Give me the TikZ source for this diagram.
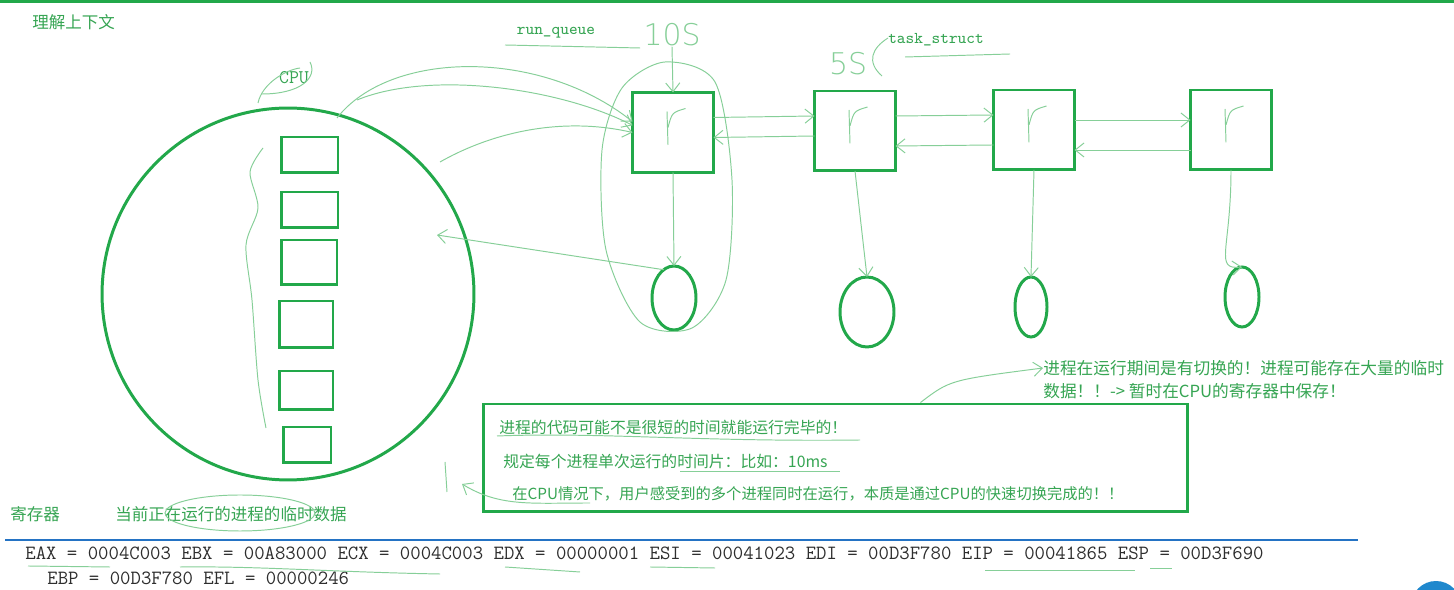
\documentclass[tikz,border=0pt]{standalone}
\usepackage{xcolor}
\usepackage{fontspec}
\usepackage{tikz}
\usetikzlibrary{shapes.geometric,arrows.meta}
\newfontfamily\cjk{Noto Sans CJK SC}
\newfontfamily\hand{DejaVu Sans ExtraLight}
\definecolor{WBGreen}{HTML}{22A84A}
\definecolor{WBText}{HTML}{36A553}
\definecolor{WBPen}{HTML}{86CF98}
\definecolor{WBBlue}{HTML}{2473C4}
\definecolor{WBGray}{HTML}{2E2E2E}

\begin{document}
\begin{tikzpicture}[x=0.02cm,y=-0.02cm,
  pen/.style={WBPen,line width=.55pt},
  hook/.style={-{Straight Barb[length=5pt,width=8pt]}},
  regbox/.style={draw=WBGreen,line width=1.7pt,inner sep=0pt,outer sep=0pt},
  taskbox/.style={draw=WBGreen,line width=1.7pt,inner sep=0pt,outer sep=0pt,minimum width=1.62cm,minimum height=1.6cm},
  proc/.style={draw=WBGreen,line width=1.7pt,ellipse,inner sep=0pt,outer sep=0pt},
  cjktext/.style={font=\cjk\fontsize{9.4}{11}\selectfont,text=WBText,inner sep=0pt,anchor=west},
  ttlabel/.style={font=\ttfamily\fontsize{9.4}{11}\selectfont,text=WBText,inner sep=0pt},
  regline/.style={font=\ttfamily\fontsize{11.5}{13}\selectfont,text=WBGray,inner sep=0pt,anchor=west}]
\path[use as bounding box] (0,0) rectangle (1454,590);
\fill[white] (0,0) rectangle (1454,590);
\draw[WBGreen,line width=1.7pt] (0,2) -- (1454,2);

% titles
\node[cjktext] (title) at (32,22) {理解上下文};
\node[ttlabel,font=\ttfamily\fontsize{11}{12}\selectfont] (cpulabel) at (294,78) {CPU};
\node[ttlabel] (rq) at (556,33) {run\_queue};
\node[ttlabel] (ts) at (936,40) {task\_struct};
\node[text=WBPen,font=\hand\fontsize{17}{20}\selectfont,inner sep=0pt] (ten) at (672,35) {10S};
\node[text=WBPen,font=\hand\fontsize{17}{20}\selectfont,inner sep=0pt] (five) at (848,64) {5S};

% cpu with registers
\node[circle,draw=WBGreen,line width=1.7pt,minimum size=7.44cm,inner sep=0pt] (cpu) at (288,294) {};
\node[regbox,minimum width=1.14cm,minimum height=0.72cm] (r1) at (309.5,155) {};
\node[regbox,minimum width=1.14cm,minimum height=0.72cm] (r2) at (309.5,210) {};
\node[regbox,minimum width=1.12cm,minimum height=0.9cm] (r3) at (309,262.5) {};
\node[regbox,minimum width=1.08cm,minimum height=0.94cm] (r4) at (306,324.5) {};
\node[regbox,minimum width=1.08cm,minimum height=0.78cm] (r5) at (306,390.5) {};
\node[regbox,minimum width=0.96cm,minimum height=0.72cm] (r6) at (307,445) {};
\draw[pen] plot[smooth] coordinates {(263,148) (250,172) (258,208) (246,245) (252,300) (258,380) (266,428)};
\draw[pen] (258,103) .. controls (262,84) and (285,70) .. (300,68);
\draw[pen] (310,62) .. controls (318,78) and (300,94) .. (262,94);

% run queue
\node[taskbox] (t1) at (673,132.5) {};
\node[taskbox] (t2) at (855,131) {};
\node[taskbox] (t3) at (1034,130) {};
\node[taskbox] (t4) at (1231,130) {};
\node[proc,minimum width=0.88cm,minimum height=1.28cm] (p1) at (674,298) {};
\node[proc,minimum width=1.08cm,minimum height=1.4cm] (p2) at (867,312) {};
\node[proc,minimum width=0.64cm,minimum height=1.2cm] (p3) at (1031,307) {};
\node[proc,minimum width=0.68cm,minimum height=1.2cm] (p4) at (1242,297) {};
\coordinate (back) at (437,235);

\foreach \b in {t1,t2,t3,t4}{
  \draw[pen] ([shift={(-0.12cm,0.42cm)}]\b.center) -- ([shift={(-0.1cm,-0.25cm)}]\b.center);
  \draw[pen] ([shift={(-0.1cm,0.1cm)}]\b.center) .. controls ([shift={(-0.02cm,0.4cm)}]\b.center) .. ([shift={(0.25cm,0.48cm)}]\b.center);
}
\draw[pen,hook] (t1.south) -- (p1.north);
\draw[pen,hook] (t2.south) -- (p2.north);
\draw[pen,hook] (t3.south) -- (p3.north);
\draw[pen,hook] (t4.south) .. controls ([yshift=-1.6cm]t4.south) and ([xshift=-0.35cm,yshift=-2cm]t4.south) .. (p4.north);
\draw[pen,hook] ([yshift=0.3cm]t1.east) -- ([yshift=0.3cm]t2.west);
\draw[pen,hook] ([yshift=-0.1cm]t2.west) -- ([yshift=-0.1cm]t1.east);
\draw[pen,hook] ([yshift=0.3cm]t2.east) -- ([yshift=0.3cm]t3.west);
\draw[pen,hook] ([yshift=-0.3cm]t3.west) -- ([yshift=-0.3cm]t2.east);
\draw[pen,hook] ([yshift=0.2cm]t3.east) -- ([yshift=0.2cm]t4.west);
\draw[pen,hook] ([yshift=-0.4cm]t4.west) -- ([yshift=-0.4cm]t3.east);
\draw[pen,hook] (ten.south) -- (t1.north);
\draw[pen,hook] (p1.110) -- (back);
\draw[pen] plot[smooth cycle] coordinates {(665,62) (715,82) (732,180) (726,280) (692,328) (640,322) (606,250) (602,150) (622,88)};
\draw[pen] (505,45) -- (640,48);
\draw[pen,hook] (337,118) .. controls (390,50) and (540,48) .. (t1.165);
\draw[pen,hook] (357,100) .. controls (430,70) and (560,88) .. (t1.170);
\draw[pen,hook] (440,162) .. controls (500,128) and (570,118) .. (t1.west);
\draw[pen] (905,57) -- (1010,54);
\draw[pen] (888,38) .. controls (872,48) and (866,62) .. (882,76);

% notes
\node[cjktext,font=\cjk\fontsize{9.5}{13.2}\selectfont,align=left,anchor=north west] (ann) at (1043,360) {进程在运行期间是有切换的！进程可能存在大量的临时\\数据！！-> 暂时在CPU的寄存器中保存！};
\node[draw=WBGreen,line width=1.7pt,minimum width=14.1cm,minimum height=2.16cm,inner sep=0pt] (note) at (835.5,458) {};
\node[cjktext,font=\cjk\fontsize{9}{11}\selectfont] (n1) at (499,427) {进程的代码可能不是很短的时间就能运行完毕的！};
\node[cjktext,font=\cjk\fontsize{9}{11}\selectfont] (n2) at (503,461) {规定每个进程单次运行的时间片：比如：10ms};
\node[cjktext,font=\cjk\fontsize{8.7}{11}\selectfont] (n3) at (512,494) {在CPU情况下，用户感受到的多个进程同时在运行，本质是通过CPU的快速切换完成的！！};
\draw[pen,hook] ([xshift=1.7cm]note.north) .. controls (950,380) .. (ann.west |- 0,368);
\draw[pen] (497,436) .. controls (600,432) and (700,442) .. (860,440);
\draw[pen] (680,471) -- (840,471);
\draw[pen,hook] (590,503) .. controls (530,503) and (500,507) .. (462,484);
\draw[pen] (445,462) -- (447,492);

% registers
\node[cjktext] (regname) at (10,514) {寄存器};
\node[cjktext] (regnote) at (115,514) {当前正在运行的进程的临时数据};
\draw[pen] (240,513) ellipse (1.5cm and 0.36cm);
\draw[WBBlue,line width=1.6pt] (5,540) -- (1358,540);
\node[regline] (regs1) at (25,553) {EAX = 0004C003 EBX = 00A83000 ECX = 0004C003 EDX = 00000001 ESI = 00041023 EDI = 00D3F780 EIP = 00041865 ESP = 00D3F690};
\node[regline] (regs2) at (47,578) {EBP = 00D3F780 EFL = 00000246};
\draw[pen] (28,566) -- (110,567);
\draw[pen] (180,567) .. controls (260,566) and (330,572) .. (440,574);
\draw[pen] (505,567) -- (580,572);
\draw[pen] (650,567) -- (715,568);
\draw[pen] (985,570) -- (1135,570);
\draw[pen] (1150,568) -- (1172,568);
\fill[WBBlue!85!cyan] (1436,606) circle (0.5cm);
\end{tikzpicture}
\end{document}
